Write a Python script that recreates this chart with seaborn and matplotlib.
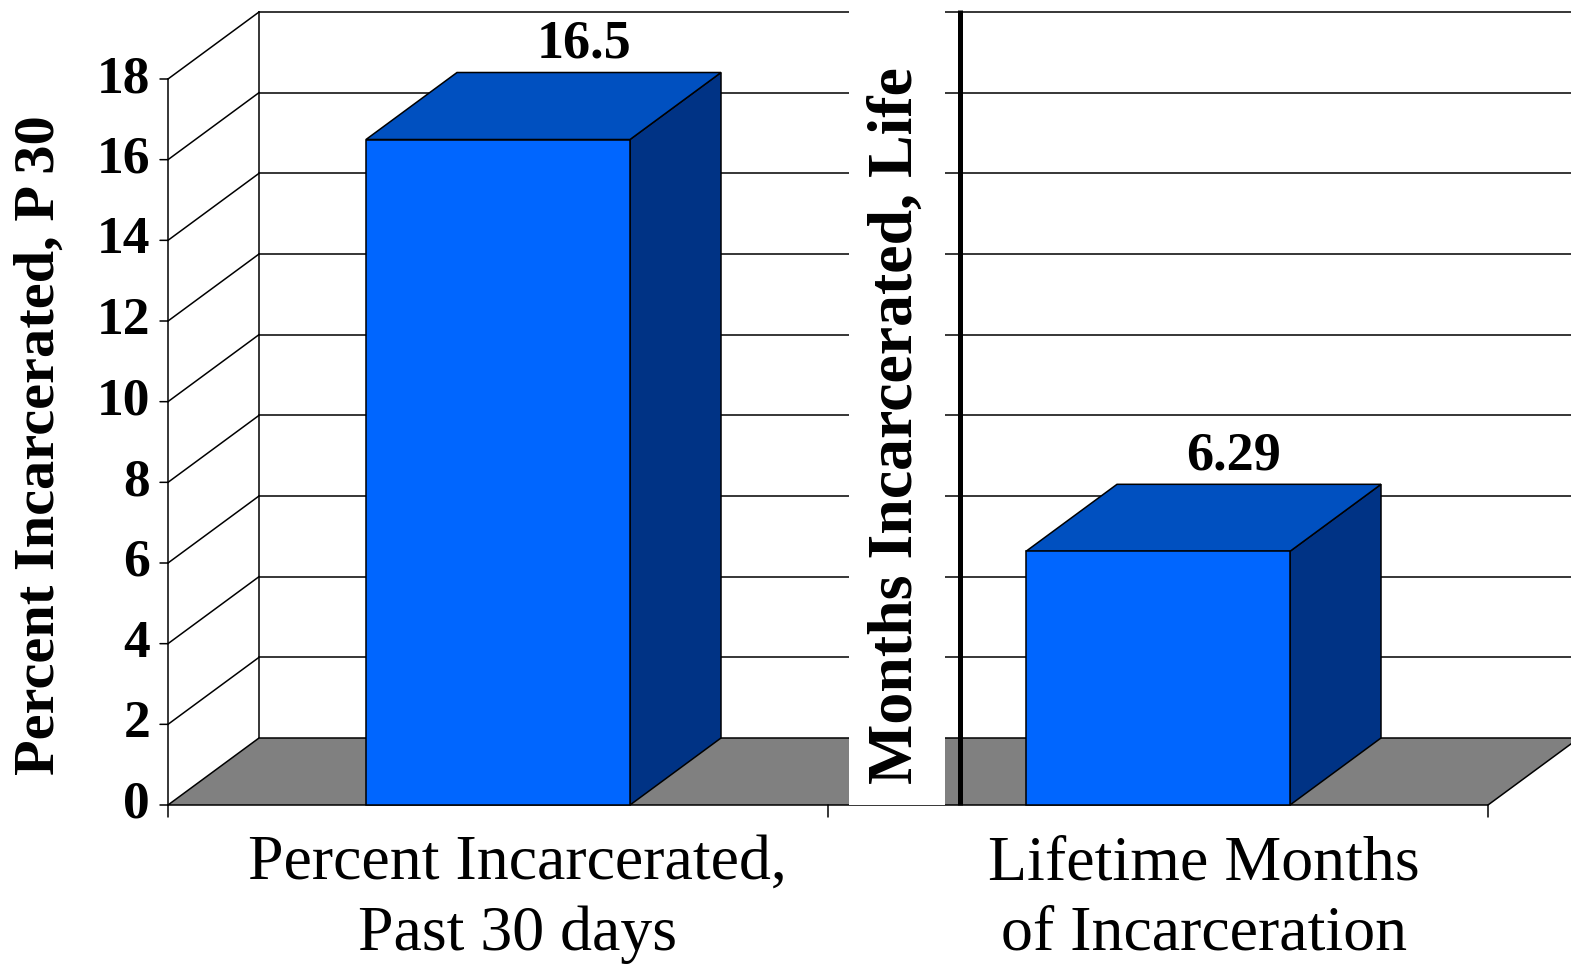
import matplotlib
matplotlib.use("Agg")
import matplotlib.pyplot as plt
import seaborn as sns
import pandas as pd
from matplotlib.patches import Polygon, Rectangle
from matplotlib.transforms import blended_transform_factory, offset_copy

# ---- data ----
categories = ["Percent Incarcerated,\nPast 30 days", "Lifetime Months\nof Incarceration"]
values = [16.5, 6.29]
value_labels = ["16.5", "6.29"]
yticks = [0, 2, 4, 6, 8, 10, 12, 14, 16, 18]
left_ylabel = "Percent Incarcerated, P 30"
right_ylabel = "Months Incarcerated, Life"

plt.rcParams["font.family"] = ["Liberation Serif", "DejaVu Serif"]

W, H = 1571, 967
fig = plt.figure(figsize=(W / 100, H / 100), dpi=100)
ax = fig.add_axes([168 / W, (H - 805) / H, 1320 / W, 726 / H])

df = pd.DataFrame({"cat": categories, "val": values})
sns.barplot(data=df, x="cat", y="val", ax=ax, color="#0066FF", saturation=1,
            width=0.4, edgecolor="black", linewidth=1.1)
ax.set_xlim(-0.5, 1.5)
ax.set_ylim(0, 18)
ax.set_axis_off()

LW = 1.1
DX = 91 / 660              # depth offset in category units
DY = 67 / (726 / 18)       # depth offset in value units
x0, x1 = ax.get_xlim()
ytop = yticks[-1]

# back wall gridlines
for v in yticks[1:]:
    ax.plot([x0 + DX, x1 + DX], [v + DY, v + DY], color="black", lw=LW,
            clip_on=False, zorder=1)
# side wall diagonals
for v in yticks[1:]:
    ax.plot([x0, x0 + DX], [v, v + DY], color="black", lw=LW, clip_on=False, zorder=1)
# back-left vertical edge
ax.plot([x0 + DX, x0 + DX], [DY, ytop + DY], color="black", lw=LW, clip_on=False, zorder=1)

# floor
ax.add_patch(Polygon([(x0, 0), (x1, 0), (x1 + DX, DY), (x0 + DX, DY)],
                     closed=True, fc="#808080", ec="black", lw=LW,
                     clip_on=False, zorder=2))

# 3D bar faces
for p in list(ax.patches):
    if not isinstance(p, Rectangle):
        continue
    bx0 = p.get_x()
    bx1 = bx0 + p.get_width()
    h = p.get_height()
    p.set_zorder(4)
    p.set_clip_on(False)
    top = Polygon([(bx0, h), (bx1, h), (bx1 + DX, h + DY), (bx0 + DX, h + DY)],
                  closed=True, fc="#0050C0", ec="black", lw=LW, clip_on=False, zorder=3)
    side = Polygon([(bx1, 0), (bx1 + DX, DY), (bx1 + DX, h + DY), (bx1, h)],
                   closed=True, fc="#003385", ec="black", lw=LW, clip_on=False, zorder=3)
    ax.add_patch(side)
    ax.add_patch(top)

# front value axis
ax.plot([x0, x0], [0, ytop], color="black", lw=LW, clip_on=False, zorder=7)
lbl_trans = offset_copy(ax.transData, fig, x=-18 * 0.72, units="points")
for v in yticks:
    ax.annotate("", xy=(x0, v), xytext=(-8, 0), textcoords="offset pixels",
                arrowprops=dict(arrowstyle="-", lw=LW, color="black",
                                shrinkA=0, shrinkB=0), annotation_clip=False)
    ax.text(x0, v, str(v), transform=lbl_trans, ha="right", va="center",
            fontsize=38.5, fontweight="bold", color="black")

# category axis ticks
for xt in [x0, (x0 + x1) / 2, x1]:
    ax.annotate("", xy=(xt, 0), xytext=(0, -12), textcoords="offset pixels",
                arrowprops=dict(arrowstyle="-", lw=LW, color="black",
                                shrinkA=0, shrinkB=0), annotation_clip=False)

# category labels
cat_offsets = [0.03, 0.07]
btrans = blended_transform_factory(ax.transData, fig.transFigure)
for i, cat in enumerate(categories):
    lines = cat.split("\n")
    for line, ypx in zip(lines, [879, 950]):
        ax.text(i + cat_offsets[i], 1 - ypx / H, line, transform=btrans,
                ha="center", va="baseline", fontsize=46, color="black")

# value labels
val_offsets = [0.13, 0.115]
vtrans = offset_copy(ax.transData, fig, y=15 * 0.72, units="points")
for i, (v, lab) in enumerate(zip(values, value_labels)):
    ax.text(i + val_offsets[i], v + DY, lab, transform=vtrans, ha="center",
            va="baseline", fontsize=39, fontweight="bold", color="black")

# white panel carrying the secondary axis title
ax.add_patch(Rectangle((849 / W, (H - 805) / H), 96 / W, 805 / H,
                       transform=fig.transFigure, fc="white", ec="none",
                       zorder=5, clip_on=False))
# secondary axis line
ax.plot([0.7, 0.7], [0, ytop + DY + 0.05], color="black", lw=3.6,
        solid_capstyle="butt", clip_on=False, zorder=6)

fig.text(40 / W, 1 - 445 / H, left_ylabel, rotation=90, ha="center", va="center",
         fontsize=42, fontweight="bold", color="black")
fig.text(897 / W, 1 - 426 / H, right_ylabel, rotation=90, ha="center", va="center",
         fontsize=46, fontweight="bold", color="black", zorder=10)

fig.savefig("out.png", dpi=100)
